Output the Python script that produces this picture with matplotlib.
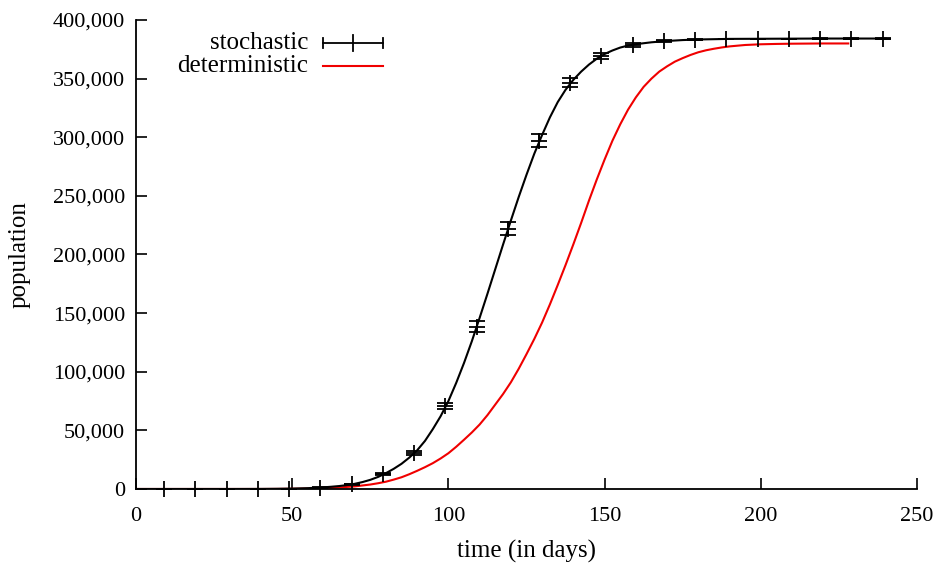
import matplotlib
matplotlib.use("Agg")
import matplotlib.pyplot as plt
from matplotlib.ticker import FuncFormatter

plt.rcParams['font.family'] = ['Liberation Serif', 'DejaVu Serif']

# stochastic: mean with error bars every 10 days
stoch_days = [9, 19, 29, 39, 49, 59, 69, 79, 89, 99, 109, 119, 129, 139, 149,
              159, 169, 179, 189, 199, 209, 219, 229, 239]
stoch_pop = [0, 0, 0, 50, 300, 1200, 4000, 12800, 30700, 70800, 138500, 221800,
             297000, 346500, 369500, 378700, 381800, 383200, 383800, 384000,
             384100, 384200, 384200, 384200]
stoch_err = [0, 0, 0, 0, 100, 200, 400, 800, 1500, 2500, 4500, 5500, 5500,
             4000, 2500, 1500, 800, 400, 200, 100, 100, 100, 100, 100]

curve_days = [0, 10, 20, 30, 35, 40, 45, 50, 55, 60, 62.5, 65, 67.5, 70, 72.5,
              75, 77.5, 80, 82.5, 85, 87.5, 90, 92.5, 95, 97.5, 100, 102.5, 105,
              107.5, 110, 112.5, 115, 117.5, 120, 122.5, 125, 127.5, 130, 132.5,
              135, 137.5, 140, 142.5, 145, 147.5, 150, 152.5, 155, 157.5, 160,
              165, 170, 175, 180, 190, 200, 220, 240]
curve_pop = [0, 0, 0, 0, 20, 60, 150, 330, 700, 1400, 1900, 2500, 3300, 4400,
             5900, 7800, 10300, 13500, 17200, 21500, 26800, 33000, 41000, 51000,
             62000, 75000, 90500, 107500, 126000, 146000, 166500, 187500, 208500,
             229000, 249000, 268000, 286000, 302000, 317000, 330000, 340500,
             349000, 356000, 362000, 367000, 371000, 374000, 376500, 378200,
             379400, 381000, 382100, 382900, 383400, 383900, 384000, 384200,
             384200]

# deterministic model
det_days = [0, 10, 20, 30, 40, 45, 50, 55, 60, 65, 70, 75, 77.5, 80, 82.5, 85,
            87.5, 90, 92.5, 95, 97.5, 100, 102.5, 105, 107.5, 110, 112.5, 115,
            117.5, 120, 122.5, 125, 127.5, 130, 132.5, 135, 137.5, 140, 142.5,
            145, 147.5, 150, 152.5, 155, 157.5, 160, 162.5, 165, 167.5, 170,
            172.5, 175, 177.5, 180, 182.5, 185, 187.5, 190, 195, 200, 205, 210,
            220, 228]
det_pop = [0, 0, 0, 0, 0, 50, 150, 350, 700, 1300, 2200, 3800, 4900, 6200, 8000,
           10000, 12600, 15500, 18600, 22000, 26000, 30500, 36000, 42000, 48200,
           55000, 63000, 72000, 81000, 91000, 102500, 115000, 128000, 142000,
           157500, 174000, 191000, 208700, 227000, 246000, 264000, 281000,
           297000, 311000, 323500, 334000, 343000, 350000, 356000, 360500,
           364500, 367500, 370200, 372500, 374200, 375500, 376600, 377500,
           378700, 379300, 379600, 379800, 380000, 380000]

fig = plt.figure(figsize=(9.38, 5.67), dpi=100)
ax = fig.add_axes([0.145, 0.1376, 0.8326, 0.8271])

ax.plot(det_days, det_pop, color='#f00000', lw=1.5, zorder=2)
ax.plot(curve_days, curve_pop, color='black', lw=1.5, zorder=3)
ax.errorbar(stoch_days, stoch_pop, yerr=stoch_err, fmt='+', color='black',
            ms=11.5, mew=1.3, elinewidth=1.3, capsize=5.8, capthick=1.3,
            zorder=4, clip_on=False)

ax.set_xlim(0, 250)
ax.set_ylim(0, 400000)
ax.set_xticks([0, 50, 100, 150, 200, 250])
ax.set_yticks(range(0, 400001, 50000))
ax.yaxis.set_major_formatter(FuncFormatter(lambda v, p: f'{int(v):,}'))

for s in ['top', 'right']:
    ax.spines[s].set_visible(False)
for s in ['left', 'bottom']:
    ax.spines[s].set_linewidth(1.3)
ax.tick_params(direction='in', length=8, width=1.2, labelsize=16)
ax.tick_params(axis='x', pad=13)
ax.tick_params(axis='y', pad=8)

ax.set_xlabel('time (in days)', fontsize=18, labelpad=10)
ax.set_ylabel('population', fontsize=18, labelpad=16)

# legend drawn gnuplot-style (text right, sample left)
tr = ax.transAxes
ax.text(0.2202, 0.951, 'stochastic', transform=tr, ha='right', va='center',
        fontsize=18)
ax.text(0.2202, 0.902, 'deterministic', transform=tr, ha='right', va='center',
        fontsize=18)
ax.plot([0.2394, 0.3163], [0.951, 0.951], color='black', lw=1.3, transform=tr,
        clip_on=False)
for xx, hh in [(0.2394, 0.011), (0.3163, 0.011), (0.2778, 0.017)]:
    ax.plot([xx, xx], [0.951 - hh, 0.951 + hh], color='black', lw=1.3,
            transform=tr, clip_on=False)
ax.plot([0.2394, 0.3163], [0.902, 0.902], color='#f00000', lw=1.5,
        transform=tr, clip_on=False)

fig.savefig('out.png', dpi=100)
